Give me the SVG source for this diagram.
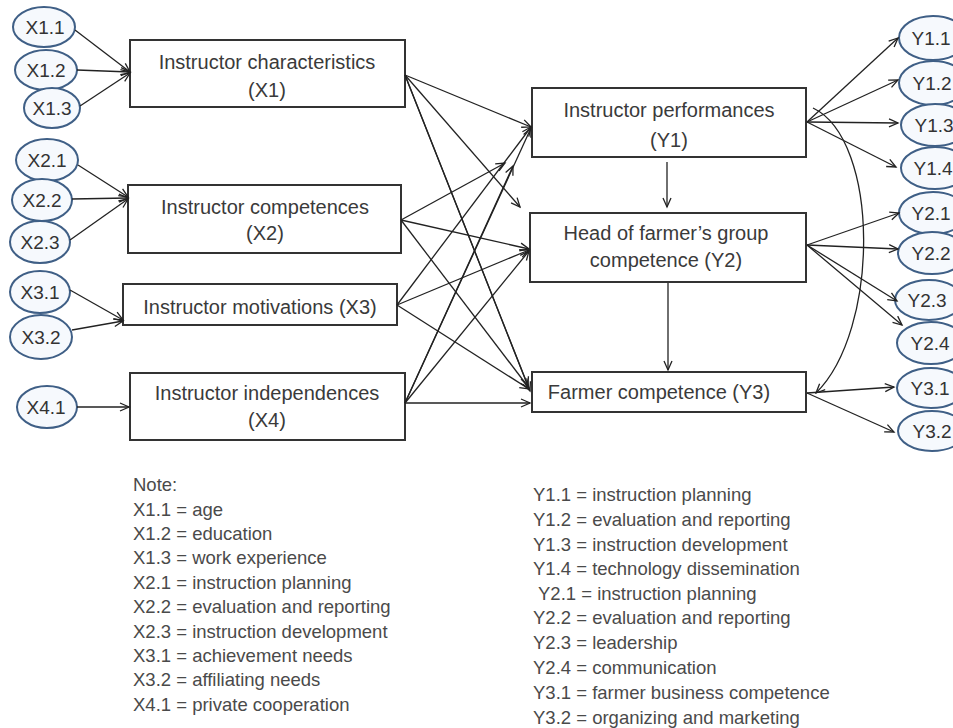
<svg xmlns="http://www.w3.org/2000/svg" width="953" height="728" viewBox="0 0 953 728">
<style>
.box{fill:#fff;stroke:#333;stroke-width:2}
.ell{fill:#f6f9fd;stroke:#3f5f86;stroke-width:2}
.bt{font-family:"Liberation Sans",Arial,sans-serif;font-size:20px;fill:#3a3a3a;text-anchor:middle}
.et{font-family:"Liberation Sans",Arial,sans-serif;font-size:19px;fill:#333;text-anchor:middle}
.nt{font-family:"Liberation Sans",Arial,sans-serif;font-size:18.5px;fill:#4a4a4a}
.c line,.c path{stroke:#222;stroke-width:1.3;fill:none;marker-end:url(#a)}
</style>
<defs>
<marker id="a" markerWidth="12" markerHeight="10" refX="10" refY="5" orient="auto" markerUnits="userSpaceOnUse">
<path d="M1,1 L10,5 L1,9" fill="none" stroke="#222" stroke-width="1.3"/>
</marker>
</defs>
<rect width="953" height="728" fill="#fff"/>

<g id="X1.1"><ellipse class="ell" cx="44" cy="27" rx="31" ry="20"/><text class="et" x="45" y="34">X1.1</text></g>
<g id="X1.2"><ellipse class="ell" cx="46" cy="70" rx="31" ry="20"/><text class="et" x="46" y="77">X1.2</text></g>
<g id="X1.3"><ellipse class="ell" cx="52" cy="108" rx="28" ry="20"/><text class="et" x="52" y="115">X1.3</text></g>
<g id="X2.1"><ellipse class="ell" cx="47" cy="160" rx="31" ry="21"/><text class="et" x="47" y="167">X2.1</text></g>
<g id="X2.2"><ellipse class="ell" cx="42" cy="200" rx="30" ry="21"/><text class="et" x="42" y="207">X2.2</text></g>
<g id="X2.3"><ellipse class="ell" cx="40" cy="242" rx="30" ry="21"/><text class="et" x="40" y="249">X2.3</text></g>
<g id="X3.1"><ellipse class="ell" cx="40" cy="292" rx="30" ry="21"/><text class="et" x="40" y="299">X3.1</text></g>
<g id="X3.2"><ellipse class="ell" cx="41" cy="337" rx="31" ry="22"/><text class="et" x="41" y="344">X3.2</text></g>
<g id="X4.1"><ellipse class="ell" cx="47" cy="407" rx="30" ry="21"/><text class="et" x="46" y="414">X4.1</text></g>

<g id="X1"><rect class="box" x="130" y="40" width="275" height="67"/><text class="bt" x="267" y="69">Instructor characteristics</text><text class="bt" x="267" y="97">(X1)</text></g>
<g id="X2"><rect class="box" x="128" y="185" width="273" height="68"/><text class="bt" x="265" y="214">Instructor competences</text><text class="bt" x="265" y="240">(X2)</text></g>
<g id="X3"><rect class="box" x="123" y="284" width="274" height="41"/><text class="bt" x="260" y="314">Instructor motivations (X3)</text></g>
<g id="X4"><rect class="box" x="130" y="373" width="275" height="67"/><text class="bt" x="267" y="400">Instructor independences</text><text class="bt" x="267" y="427">(X4)</text></g>

<g id="Y1"><rect class="box" x="532" y="88" width="274" height="69"/><text class="bt" x="669" y="117">Instructor performances</text><text class="bt" x="669" y="147">(Y1)</text></g>
<g id="Y2"><rect class="box" x="530" y="213" width="276" height="69"/><text class="bt" x="666" y="240">Head of farmer’s group</text><text class="bt" x="666" y="267">competence (Y2)</text></g>
<g id="Y3"><rect class="box" x="532" y="372" width="274" height="40"/><text class="bt" x="659" y="399">Farmer competence (Y3)</text></g>

<g id="Y1.1"><ellipse class="ell" cx="933" cy="38" rx="34" ry="22"/><text class="et" x="931" y="45">Y1.1</text></g>
<g id="Y1.2"><ellipse class="ell" cx="933" cy="83" rx="34" ry="22"/><text class="et" x="932" y="90">Y1.2</text></g>
<g id="Y1.3"><ellipse class="ell" cx="935" cy="125" rx="34" ry="21"/><text class="et" x="934" y="132">Y1.3</text></g>
<g id="Y1.4"><ellipse class="ell" cx="935" cy="168" rx="34" ry="21"/><text class="et" x="933" y="175">Y1.4</text></g>
<g id="Y2.1"><ellipse class="ell" cx="933" cy="213" rx="34" ry="21"/><text class="et" x="931" y="220">Y2.1</text></g>
<g id="Y2.2"><ellipse class="ell" cx="932" cy="253" rx="34" ry="21"/><text class="et" x="931" y="260">Y2.2</text></g>
<g id="Y2.3"><ellipse class="ell" cx="929" cy="300" rx="34" ry="20"/><text class="et" x="927" y="307">Y2.3</text></g>
<g id="Y2.4"><ellipse class="ell" cx="931" cy="343" rx="34" ry="21"/><text class="et" x="930" y="350">Y2.4</text></g>
<g id="Y3.1"><ellipse class="ell" cx="931" cy="388" rx="34" ry="20"/><text class="et" x="930" y="395">Y3.1</text></g>
<g id="Y3.2"><ellipse class="ell" cx="932" cy="431" rx="34" ry="20"/><text class="et" x="932" y="438">Y3.2</text></g>

<g id="connectors" class="c">
<line x1="75" y1="30" x2="130" y2="72"/>
<line x1="77" y1="70" x2="130" y2="72"/>
<line x1="80" y1="106" x2="130" y2="73"/>
<line x1="78" y1="165" x2="128" y2="197"/>
<line x1="72" y1="199" x2="128" y2="198"/>
<line x1="70" y1="240" x2="128" y2="199"/>
<line x1="70" y1="290" x2="123" y2="320"/>
<line x1="72" y1="330" x2="123" y2="321"/>
<line x1="77" y1="407" x2="129" y2="407"/>

<line x1="405" y1="75" x2="531" y2="127"/>
<line x1="405" y1="75" x2="520" y2="207"/>
<line x1="405" y1="75" x2="528" y2="386"/>
<line x1="405" y1="75" x2="530" y2="391"/>
<line x1="401" y1="220" x2="505" y2="163"/>
<line x1="401" y1="220" x2="529" y2="249"/>
<line x1="401" y1="220" x2="529" y2="388"/>
<line x1="397" y1="305" x2="531" y2="127"/>
<line x1="397" y1="305" x2="529" y2="250"/>
<line x1="397" y1="305" x2="529" y2="389"/>
<line x1="405" y1="403" x2="531" y2="128"/>
<line x1="405" y1="403" x2="513" y2="166"/>
<line x1="405" y1="403" x2="529" y2="251"/>
<line x1="405" y1="403" x2="530" y2="403"/>

<line x1="667" y1="162" x2="667" y2="207"/>
<line x1="668" y1="283" x2="668" y2="370"/>

<line x1="807" y1="122" x2="898" y2="38"/>
<line x1="807" y1="122" x2="898" y2="80"/>
<line x1="807" y1="122" x2="898" y2="123"/>
<line x1="807" y1="122" x2="896" y2="167"/>
<line x1="807" y1="245" x2="899" y2="213"/>
<line x1="807" y1="245" x2="898" y2="249"/>
<line x1="807" y1="245" x2="897" y2="301"/>
<line x1="807" y1="245" x2="902" y2="325"/>
<line x1="807" y1="393" x2="894" y2="387"/>
<line x1="807" y1="393" x2="894" y2="432"/>
<path d="M813,108 C880,140 880,330 816,393"/>
</g>

<g id="notes-left" class="nt">
<text x="133" y="491">Note:</text>
<text x="133" y="516">X1.1 = age</text>
<text x="133" y="540">X1.2 = education</text>
<text x="133" y="564">X1.3 = work experience</text>
<text x="133" y="589">X2.1 = instruction planning</text>
<text x="133" y="613">X2.2 = evaluation and reporting</text>
<text x="133" y="638">X2.3 = instruction development</text>
<text x="133" y="662">X3.1 = achievement  needs</text>
<text x="133" y="686">X3.2 = affiliating needs</text>
<text x="133" y="711">X4.1 = private cooperation</text>
</g>
<g id="notes-right" class="nt">
<text x="533" y="501">Y1.1 = instruction planning</text>
<text x="533" y="526">Y1.2 = evaluation and reporting</text>
<text x="533" y="551">Y1.3 = instruction development</text>
<text x="533" y="575">Y1.4 = technology dissemination</text>
<text x="538" y="600">Y2.1 = instruction planning</text>
<text x="533" y="624">Y2.2 = evaluation and reporting</text>
<text x="533" y="649">Y2.3 = leadership</text>
<text x="533" y="674">Y2.4 = communication</text>
<text x="533" y="699">Y3.1 = farmer business competence</text>
<text x="533" y="724">Y3.2 = organizing and marketing</text>
</g>
</svg>
